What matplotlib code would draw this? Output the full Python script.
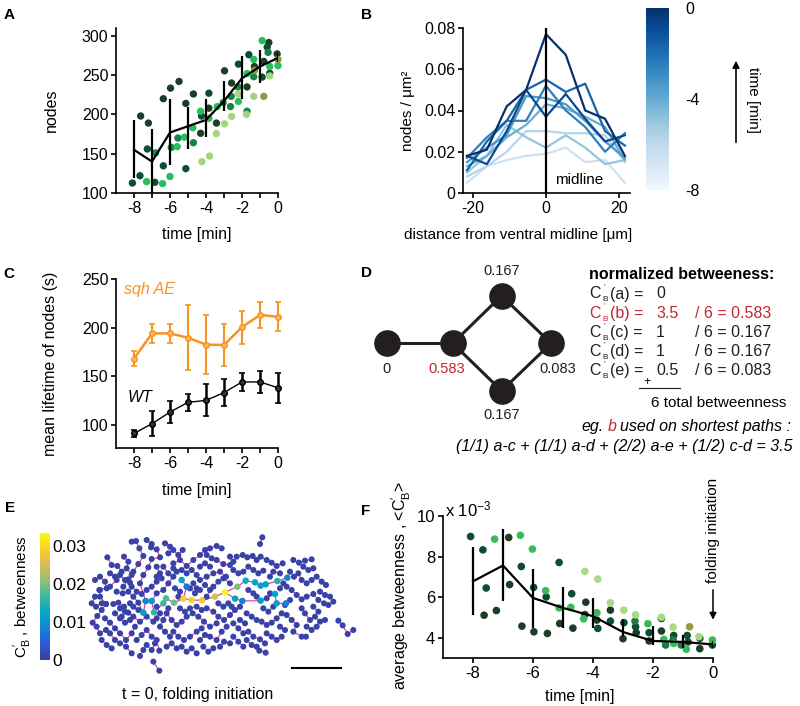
import matplotlib.pyplot as plt
import numpy as np
from matplotlib.colors import LinearSegmentedColormap, Normalize
import matplotlib.cm as cm

plt.rcParams['font.family'] = ['Liberation Sans', 'DejaVu Sans']
plt.rcParams['mathtext.fontset'] = 'custom'
plt.rcParams['mathtext.rm'] = 'Liberation Sans'
plt.rcParams['mathtext.it'] = 'Liberation Sans:italic'
plt.rcParams['mathtext.bf'] = 'Liberation Sans:bold'
plt.rcParams['font.size'] = 11.5
plt.rcParams['axes.unicode_minus'] = False
plt.rcParams['axes.linewidth'] = 1.2

# ---------------- data ----------------
# A: number of nodes per embryo, mean +- sd
time_min = [-8, -7, -6, -5, -4, -3, -2, -1, 0]
nodes_mean = [155, 140, 177, 185, 193, 217, 246, 261, 272]
nodes_lo = [119, 99, 135, 156, 171, 204, 219, 240, 267]
nodes_hi = [193, 182, 219, 210, 219, 243, 274, 282, 278]
nodes_emb1 = [(-7.63, 198), (-7.2, 189), (-6.37, 220), (-5.97, 233.5), (-5.5, 242), (-5.12, 214),
              (-4.7, 226), (-4.3, 176), (-3.84, 208), (-3.42, 189), (-2.97, 255.5), (-2.58, 240),
              (-1.72, 235), (-1.31, 261), (-0.79, 267.5), (-0.51, 291.5), (-0.05, 277)]
nodes_emb2 = [(-8.09, 112.7), (-7.67, 122), (-7.26, 156), (-6.84, 113.6), (-6.37, 134.6), (-5.12, 131),
              (-4.25, 198), (-3.84, 227), (-2.2, 264), (-1.62, 276), (-0.88, 247.5), (-0.6, 285.6),
              (-0.46, 252.5)]
nodes_emb3 = [(-6.8, 151), (-5.93, 158), (-5.56, 170), (-4.7, 164), (-3.05, 215), (-2.64, 210),
              (-2.6, 223), (-2.23, 235), (-1.72, 204), (-1.35, 248), (-0.55, 279)]
nodes_emb4 = [(-7.3, 114.5), (-6.41, 112), (-6.0, 121), (-5.6, 159), (-5.2, 171), (-4.73, 183),
              (-4.3, 204), (-3.84, 195), (-3.38, 210), (-2.2, 216.5), (-1.72, 252), (-1.35, 270),
              (-0.88, 294), (-0.46, 261), (0, 262)]
nodes_emb5 = [(-4.23, 140), (-3.8, 147), (-3.42, 175.5), (-2.97, 188), (-2.58, 197.5), (-2.2, 226),
              (-1.75, 200), (-1.35, 223), (-0.46, 249)]
nodes_emb6 = [(-1.31, 256), (-0.79, 223), (0, 270)]
emb_colors = ['#1e3d25', '#0c4d36', '#168447', '#26bf5c', '#a3d67e', '#8c9a48']

# B: node density vs distance from midline, one profile per minute
dist_um = [-21.5, -16.1, -10.7, -5.4, 0, 5.4, 10.7, 16.1, 21.5]
density_times = [-8, -7, -6, -5, -4, -3, -2, -1, 0]
density = [
    [0.005, 0.013, 0.016, 0.018, 0.019, 0.022, 0.015, 0.016, 0.005],
    [0.008, 0.013, 0.020, 0.030, 0.030, 0.029, 0.029, 0.028, 0.015],
    [0.010, 0.018, 0.033, 0.027, 0.022, 0.028, 0.022, 0.014, 0.016],
    [0.013, 0.018, 0.027, 0.033, 0.043, 0.041, 0.037, 0.032, 0.016],
    [0.015, 0.022, 0.028, 0.047, 0.046, 0.043, 0.035, 0.025, 0.017],
    [0.017, 0.027, 0.035, 0.035, 0.052, 0.040, 0.032, 0.020, 0.029],
    [0.011, 0.025, 0.035, 0.050, 0.055, 0.049, 0.053, 0.030, 0.023],
    [0.018, 0.014, 0.030, 0.050, 0.037, 0.048, 0.036, 0.025, 0.028],
    [0.018, 0.021, 0.042, 0.050, 0.077, 0.067, 0.040, 0.036, 0.018],
]

# C: mean lifetime of nodes
lifetime_wt = [91, 101, 113, 123, 125, 133, 144, 144, 138]
lifetime_wt_err = [4, 13, 11, 8.5, 16.5, 14, 9.5, 11.5, 15.5]
lifetime_sqh = [168, 194, 194, 189.5, 182.5, 182, 200.5, 213, 211]
lifetime_sqh_err = [7.5, 10, 10, 33.5, 30, 21.5, 17, 13, 15]

# D: toy graph
graph_nodes = ['a', 'b', 'c', 'd', 'e']
graph_xy = [(0, 0), (1, 0), (1.74, 0.72), (1.74, -0.72), (2.49, 0)]
graph_edges = [(0, 1), (1, 2), (1, 3), (2, 4), (3, 4)]
graph_betw = ['0', '3.5', '1', '1', '0.5']
graph_norm = ['0', '0.583', '0.167', '0.167', '0.083']

# E: network at t = 0 (image coordinates), chains of linked nodes
e_chains = [
    [(278, 548), (292, 528), (305, 510), (318, 492), (300, 470), (298, 450)],
    [(288, 500), (305, 490), (318, 492)],
    [(322, 352), (335, 375), (352, 378), (365, 395), (350, 420), (330, 440), (300, 450)],
    [(395, 305), (408, 303), (418, 325), (430, 348), (415, 372), (400, 395), (385, 418), (370, 440)],
    [(453, 322), (470, 328), (480, 352), (455, 357), (445, 382), (430, 405), (420, 430), (437, 483)],
    [(315, 535), (330, 548), (345, 565), (360, 580), (378, 600), (395, 580), (405, 560)],
    [(340, 492), (355, 488), (372, 500), (385, 518), (400, 530), (420, 545), (440, 530), (460, 545)],
    [(350, 455), (368, 460), (385, 455), (400, 470), (415, 488), (430, 518)],
    [(345, 520), (360, 535), (375, 548), (390, 540)],
    [(330, 580), (345, 600), (360, 610), (378, 620), (395, 640)],
    [(410, 600), (425, 585), (440, 570), (455, 590), (470, 600), (478, 632)],
    [(460, 665), (478, 692)],
    [(440, 615), (455, 630), (465, 610)],
    [(360, 505), (375, 515), (365, 530)],
    [(395, 440), (410, 455), (425, 462), (440, 450), (455, 440), (470, 425), (485, 415)],
    [(330, 400), (345, 410), (360, 405), (375, 420), (390, 428)],
    [(490, 380), (505, 400), (520, 410), (505, 430), (490, 450), (470, 460), (455, 483)],
    [(470, 380), (480, 400), (470, 410)],
    [(520, 370), (540, 360), (560, 378), (580, 360), (600, 345), (615, 330), (630, 325), (650, 318), (665, 325)],
    [(575, 390), (590, 405), (600, 420), (620, 410), (640, 400), (660, 395), (678, 410)],
    [(650, 360), (670, 372), (690, 375)],
    [(500, 520), (515, 540), (530, 555), (545, 545), (560, 530), (578, 520), (595, 530), (612, 545), (630, 560), (650, 550)],
    [(540, 505), (555, 515), (570, 505), (590, 500), (605, 510)],
    [(520, 575), (535, 590), (552, 600), (570, 590), (590, 575), (605, 565)],
    [(505, 505), (490, 540), (480, 560), (495, 575), (510, 590)],
    [(500, 620), (515, 610), (530, 625)],
    [(620, 505), (640, 515), (655, 530), (672, 540), (690, 525), (705, 510), (720, 500)],
    [(600, 600), (615, 585), (630, 590), (650, 600), (665, 575), (680, 560)],
    [(640, 440), (655, 425), (670, 415), (690, 430)],
    [(620, 470), (630, 450), (615, 435)],
    [(600, 450), (585, 460), (570, 445)],
    [(710, 350), (728, 345), (742, 352), (758, 348), (770, 360), (782, 350), (800, 360), (815, 368), (830, 378), (848, 370)],
    [(780, 312), (787, 292)],
    [(700, 390), (715, 400), (730, 395), (745, 380), (760, 390), (775, 400), (790, 392)],
    [(810, 410), (820, 395), (840, 400)],
    [(745, 450), (760, 460), (770, 470)],
    [(880, 360), (897, 368), (915, 362), (935, 358)],
    [(870, 395), (882, 410), (895, 400), (905, 420), (920, 430), (935, 420), (950, 410), (965, 425), (978, 435)],
    [(860, 440), (875, 450), (890, 465), (905, 478), (920, 470), (940, 462), (955, 480), (972, 490), (985, 495)],
    [(870, 480), (855, 495)],
    [(820, 500), (805, 515), (790, 505)],
    [(740, 520), (755, 530), (770, 540), (785, 545), (800, 555), (815, 548), (830, 535), (845, 520)],
    [(700, 550), (715, 565), (730, 580), (745, 575), (760, 590), (780, 598), (795, 610)],
    [(700, 590), (715, 605), (730, 620)],
    [(860, 525), (875, 540), (890, 555), (880, 575), (905, 590), (918, 590)],
    [(905, 505), (915, 520), (930, 540), (945, 530), (960, 545), (975, 540)],
    [(940, 500), (955, 515)],
    [(778, 632), (797, 638)],
    [(1015, 542), (1028, 556), (1043, 582), (1060, 570)],
    [(285, 420), (300, 410), (315, 425), (320, 445)],
    [(290, 560), (300, 580), (318, 570)],
    [(305, 600), (320, 615), (335, 625)],
    [(372, 350), (385, 365), (380, 385), (395, 405)],
    [(440, 300), (455, 312)],
    [(505, 340), (520, 330), (535, 345), (548, 330)],
    [(495, 310), (510, 320)],
    [(560, 400), (545, 390), (530, 395), (520, 385)],
    [(545, 620), (560, 635), (575, 625), (590, 640)],
    [(610, 620), (625, 635), (640, 625)],
    [(660, 620), (672, 605), (690, 610)],
    [(415, 510), (400, 500), (390, 490)],
    [(470, 500), (480, 520), (470, 535)],
    [(525, 445), (540, 455), (535, 470)],
    [(580, 430), (590, 445)],
    [(655, 490), (670, 500), (685, 490), (695, 500)],
    [(720, 540), (735, 550)],
    [(690, 350), (700, 365)],
    [(600, 380), (615, 370), (630, 380)],
    [(740, 600), (755, 615), (770, 620)],
    [(800, 580), (815, 590), (830, 600), (845, 590)],
    [(840, 560), (855, 570)],
    [(810, 460), (800, 475)],
    [(850, 430), (840, 445)],
    [(910, 380), (925, 390), (940, 385)],
    [(960, 455), (975, 465)],
    [(990, 470), (1000, 485)],
    [(920, 560), (935, 570), (950, 560)],
    [(285, 470), (275, 490)],
    [(430, 630), (420, 648)],
    [(620, 345), (635, 355)],
]
e_low_value = 0.0008
e_hubs = [(430, 518, 0.012), (437, 483, 0.009), (455, 483, 0.011), (462, 517, 0.016), (490, 490, 0.017),
          (498, 475, 0.018), (522, 488, 0.019), (550, 476, 0.029), (575, 480, 0.029), (606, 481, 0.028),
          (645, 470, 0.025), (675, 457, 0.033), (712, 440, 0.020), (737, 422, 0.013), (765, 427, 0.012),
          (782, 437, 0.012), (797, 433, 0.012), (832, 423, 0.015), (862, 413, 0.008), (705, 476, 0.012),
          (727, 483, 0.008), (782, 482, 0.011), (825, 462, 0.012), (830, 490, 0.012), (858, 490, 0.008),
          (545, 420, 0.012), (560, 440, 0.006)]
e_hub_paths = [list(range(0, 19)), [11, 19, 20, 21, 22, 23, 24], [25, 26, 7]]

# F: average betweenness (x 1e-3)
betw_mean = [6.78, 7.56, 5.96, 5.47, 5.06, 4.28, 3.84, 3.79, 3.67]
betw_lo = [5.10, 5.80, 4.49, 4.49, 4.49, 4.08, 3.62, 3.51, 3.51]
betw_hi = [8.48, 9.35, 7.38, 6.48, 5.96, 4.90, 4.60, 4.11, 3.84]
betw_emb1 = [(-7.63, 5.11), (-7.22, 5.34), (-6.81, 8.94), (-6.78, 6.62), (-6.37, 4.57), (-5.97, 4.29),
             (-5.52, 4.21), (-5.11, 4.70), (-4.67, 4.47), (-4.24, 5.75), (-3.87, 4.87), (-3.42, 5.36),
             (-3.0, 3.95), (-2.56, 4.25), (-2.13, 3.84), (-1.72, 4.33), (-0.83, 3.79), (-0.44, 3.46)]
betw_emb2 = [(-8.08, 8.99), (-7.67, 8.33), (-7.56, 6.45), (-6.39, 7.51), (-5.98, 6.48), (-5.56, 6.01),
             (-5.13, 7.71), (-4.71, 6.17), (-4.27, 5.14), (-3.84, 4.46), (-3.42, 4.82), (-2.97, 4.74),
             (-2.58, 4.54), (-2.13, 4.25), (-1.72, 4.95), (-1.31, 4.11), (-0.86, 4.11), (-0.44, 3.97),
             (-0.02, 3.64)]
betw_emb3 = [(-2.6, 4.82), (-1.58, 3.64), (-1.33, 3.89), (-1.06, 3.64)]
betw_emb4 = [(-7.28, 8.86), (-6.42, 9.05), (-6.02, 8.37), (-5.58, 6.32), (-5.13, 5.47), (-4.74, 5.50),
             (-4.31, 4.93), (-3.87, 5.23), (-2.17, 4.69), (-1.64, 3.92), (-1.31, 3.72), (-0.89, 3.43),
             (-0.02, 3.89)]
betw_emb5 = [(-4.27, 7.27), (-3.84, 6.89), (-3.42, 5.72), (-2.97, 5.36), (-2.58, 5.13), (-1.72, 5.01),
             (-1.33, 4.52), (-0.47, 4.05)]
betw_emb6 = [(-0.78, 4.54)]
betw_colors = ['#1e3d25', '#0c4d36', '#1d7a48', '#3cb85c', '#a9d983', '#9a9a40']

# ---------------- layout helpers ----------------
W, H = 800, 706


def box(l, t, r, b):
    return [l / W, 1 - b / H, (r - l) / W, (b - t) / H]


def fx(x, y):
    return x / W, 1 - y / H


def style(ax):
    for s in ['top', 'right']:
        ax.spines[s].set_visible(False)
    ax.tick_params(direction='out', length=3.5, width=1.2, labelsize=11.5, pad=2)


fig = plt.figure(figsize=(8, 7.06), dpi=100)

# ---------------- A ----------------
ax = fig.add_axes(box(116, 28, 278, 193))
style(ax)
for pts, col in zip([nodes_emb1, nodes_emb2, nodes_emb3, nodes_emb4, nodes_emb5, nodes_emb6], emb_colors):
    t, v = zip(*pts)
    ax.scatter(t, v, s=28, color=col, edgecolors='none', clip_on=False, zorder=2)
ax.vlines(time_min, nodes_lo, nodes_hi, color='k', lw=1.6, zorder=3)
ax.plot(time_min, nodes_mean, color='k', lw=1.6, zorder=3)
ax.set_xlim(-9, 0)
ax.set_ylim(100, 310)
ax.set_xticks(time_min)
ax.set_xticklabels([str(t) if t % 2 == 0 else '' for t in time_min])
ax.set_yticks([100, 150, 200, 250, 300])
ax.set_xlabel('time [min]')
ax.set_ylabel('nodes')
ax.xaxis.set_label_coords(0.5, -0.205)
ax.yaxis.set_label_coords(-0.35, 0.5)

# ---------------- B ----------------
ax = fig.add_axes(box(463, 28, 630, 193))
style(ax)
for t, prof in zip(density_times, density):
    ax.plot(dist_um, prof, color=plt.cm.Blues(0.2 + 0.8 * (t + 8) / 8), lw=1.6)
ax.plot([0, 0], [0, 0.08], color='k', lw=1.6)
ax.text(2.4, 0.0063, 'midline', fontsize=11, va='center')
ax.set_xlim(-22.6, 22.9)
ax.set_ylim(0, 0.08)
ax.set_xticks([-20, 0, 20])
ax.set_yticks([0, 0.02, 0.04, 0.06, 0.08])
ax.set_yticklabels(['0', '0.02', '0.04', '0.06', '0.08'])
ax.set_xlabel('distance from ventral midline [\u03bcm]', fontsize=11)
ax.set_ylabel('nodes / \u03bcm\u00b2', fontsize=11)
ax.xaxis.set_label_coords(0.33, -0.21)
ax.yaxis.set_label_coords(-0.29, 0.5)

blues = LinearSegmentedColormap.from_list('blues_t', plt.cm.Blues(np.linspace(0.03, 1, 256)))
cax = fig.add_axes(box(646, 8, 669, 190))
cb = fig.colorbar(cm.ScalarMappable(Normalize(-8, 0), blues), cax=cax)
cb.set_ticks([-8, -4, 0])
cb.outline.set_visible(False)
cax.tick_params(length=0, labelsize=11.5, pad=12)
cax.annotate('', xy=fx(736, 58), xytext=fx(736, 145), xycoords='figure fraction',
             arrowprops=dict(arrowstyle='-|>', color='k', lw=1.2, mutation_scale=10))
fig.text(*fx(753, 100), 'time [min]', rotation=270, ha='center', va='center', fontsize=11)

# ---------------- C ----------------
ax = fig.add_axes(box(116, 279, 278, 448))
style(ax)
ax.errorbar(time_min, lifetime_sqh, yerr=lifetime_sqh_err, color='#f7941d', lw=1.8, elinewidth=1.5,
            capsize=2.5, capthick=1.2, marker='o', ms=4, mfc='#fbb564', mec='#f7941d', clip_on=False)
ax.errorbar(time_min, lifetime_wt, yerr=lifetime_wt_err, color='k', lw=1.0, elinewidth=1.8,
            capsize=2.5, capthick=1.2, marker='o', ms=4, mfc='#333333', mec='k', clip_on=False)
ax.text(-8.55, 239, 'sqh AE', color='#f7941d', style='italic', va='center', fontsize=11.5)
ax.text(-8.33, 128, 'WT', color='k', style='italic', va='center', fontsize=11.5)
ax.set_xlim(-9, 0)
ax.set_ylim(76, 250)
ax.set_xticks(time_min)
ax.set_xticklabels([str(t) if t % 2 == 0 else '' for t in time_min])
ax.set_yticks([100, 150, 200, 250])
ax.set_xlabel('time [min]')
ax.set_ylabel('mean lifetime of nodes (s)')
ax.xaxis.set_label_coords(0.5, -0.21)
ax.yaxis.set_label_coords(-0.36, 0.5)

# ---------------- D ----------------
ax = fig.add_axes(box(360, 260, 590, 425))
ax.set_xlim(-0.405, 3.08)
ax.set_ylim(-1.238, 1.262)
ax.axis('off')
for i, j in graph_edges:
    ax.plot([graph_xy[i][0], graph_xy[j][0]], [graph_xy[i][1], graph_xy[j][1]], color='#231f20', lw=2.2, zorder=1)
gx, gy = zip(*graph_xy)
ax.scatter(gx, gy, s=330, color='#231f20', zorder=2)
label_off = [(0, -0.39), (-0.09, -0.39), (0, 0.37), (0, -0.37), (0.1, -0.39)]
for k, (xy, lab, off) in enumerate(zip(graph_xy, graph_norm, label_off)):
    ax.text(xy[0] + off[0], xy[1] + off[1], lab, ha='center', va='center', fontsize=10.5,
            color='#c1272d' if graph_nodes[k] == 'b' else '#231f20')

fig.text(*fx(589, 275), 'normalized betweeness:', fontweight='bold', va='center', fontsize=11.5)
row_y = [294, 313.3, 332.7, 351.7, 370.7]
for k, (name, raw, nrm) in enumerate(zip(graph_nodes, graph_betw, graph_norm)):
    col = '#c1272d' if name == 'b' else '#231f20'
    y = row_y[k]
    fig.text(*fx(589, y), 'C', va='center', fontsize=11.5, color=col)
    fig.text(*fx(603.5, y - 7), "'", va='center', fontsize=6, color=col)
    fig.text(*fx(602.5, y + 6), 'B', va='center', fontsize=6, color=col)
    fig.text(*fx(609.5, y), '(%s) =' % name, va='center', fontsize=11.5, color=col)
    fig.text(*fx(656, y), raw, va='center', fontsize=11.5, color=col)
    if k > 0:
        fig.text(*fx(695, y), '/ 6 = %s' % nrm, va='center', fontsize=11.5, color=col)
fig.text(*fx(647, 382), '+', ha='center', va='center', fontsize=9)
fig.add_artist(plt.Line2D([639 / W, 680 / W], [1 - 388 / H, 1 - 388 / H], color='#231f20', lw=0.8))
fig.text(*fx(651, 402.7), '6 total betweenness', va='center', fontsize=11)
fig.text(*fx(581.7, 426.7), 'eg.', va='center', style='italic', fontsize=11.5)
fig.text(*fx(607.7, 426.7), 'b', va='center', style='italic', fontsize=11.5, color='#c1272d')
fig.text(*fx(619.5, 426.7), 'used on shortest paths :', va='center', style='italic', fontsize=11.5)
fig.text(*fx(793, 447), '(1/1) a-c + (1/1) a-d + (2/2) a-e + (1/2) c-d = 3.5', ha='right', va='center',
         style='italic', fontsize=11.5)

# ---------------- E ----------------
parula = LinearSegmentedColormap.from_list(
    'parula', ['#3d3c9c', '#2a5ad8', '#1485d4', '#06a7c6', '#38b99e', '#92bf73', '#d9ba56', '#fcce2e', '#f9fb0e'])
enorm = Normalize(0, 0.0335)
ax = fig.add_axes(box(85, 530, 362, 680))
ax.set_xlim(255, 1086)
ax.set_ylim(720, 270)
ax.axis('off')
edge_col = '#d6409e'
for ch in e_chains:
    cx, cy = zip(*ch)
    ax.plot(cx, cy, color=edge_col, lw=0.85, zorder=1)
for path in e_hub_paths:
    ax.plot([e_hubs[i][0] for i in path], [e_hubs[i][1] for i in path], color=edge_col, lw=0.85, zorder=1)
allx = [p[0] for ch in e_chains for p in ch]
ally = [p[1] for ch in e_chains for p in ch]
ax.scatter(allx, ally, s=19, color=parula(enorm(e_low_value)), edgecolors='none', zorder=2)
hx, hy, hv = zip(*e_hubs)
ax.scatter(hx, hy, s=22, c=hv, cmap=parula, norm=enorm, edgecolors='none', zorder=3)
ax.plot([875, 1022], [683, 683], color='k', lw=1.5)

cax = fig.add_axes(box(40, 533, 50, 660))
cb = fig.colorbar(cm.ScalarMappable(enorm, parula), cax=cax)
cb.set_ticks([0, 0.01, 0.02, 0.03])
cb.set_ticklabels(['0', '0.01', '0.02', '0.03'])
cb.outline.set_visible(False)
cax.tick_params(length=0, labelsize=12.5, pad=2)
cax.yaxis.set_label_position('left')
cb.set_label(r"C$^{\prime}_{\mathrm{B}}$ , betweenness", fontsize=11, labelpad=4)
fig.text(*fx(198, 695), 't = 0, folding initiation', ha='center', va='center', fontsize=11.5)

# ---------------- F ----------------
ax = fig.add_axes(box(443, 516, 713, 658))
style(ax)
for pts, col in zip([betw_emb1, betw_emb2, betw_emb3, betw_emb4, betw_emb5, betw_emb6], betw_colors):
    t, v = zip(*pts)
    ax.scatter(t, v, s=30, color=col, edgecolors='none', clip_on=False, zorder=2)
ax.vlines(time_min, betw_lo, betw_hi, color='k', lw=1.6, zorder=3)
ax.plot(time_min, betw_mean, color='k', lw=1.6, zorder=3)
ax.set_xlim(-9, 0)
ax.set_ylim(3.0, 10.0)
ax.set_xticks([-8, -6, -4, -2, 0])
ax.set_yticks([4, 6, 8, 10])
ax.tick_params(labelsize=12)
ax.set_xlabel('time [min]')
ax.set_ylabel(r"average betweenness , <C$^{\prime}_{\mathrm{B}}$>")
ax.xaxis.set_label_coords(0.507, -0.22)
ax.yaxis.set_label_coords(-0.11, 0.51)
ax.annotate('', xy=(0, 4.75), xytext=(0, 6.5), arrowprops=dict(arrowstyle='-|>', color='k', lw=1.1,
            mutation_scale=10), annotation_clip=False)
ax.text(0, 6.72, 'folding initiation', rotation=90, ha='center', va='bottom', fontsize=11, clip_on=False)
fig.text(*fx(445, 509), r'x 10$^{-3}$', va='center', fontsize=12)

# panel letters
for lab, (x, y) in zip('ABCDEF', [(9.5, 15), (366.7, 15), (9, 274), (366.7, 273), (10, 507.5), (366, 511)]):
    fig.text(*fx(x, y), lab, fontweight='bold', ha='center', va='center', fontsize=11)

fig.savefig('out.png', dpi=100)
